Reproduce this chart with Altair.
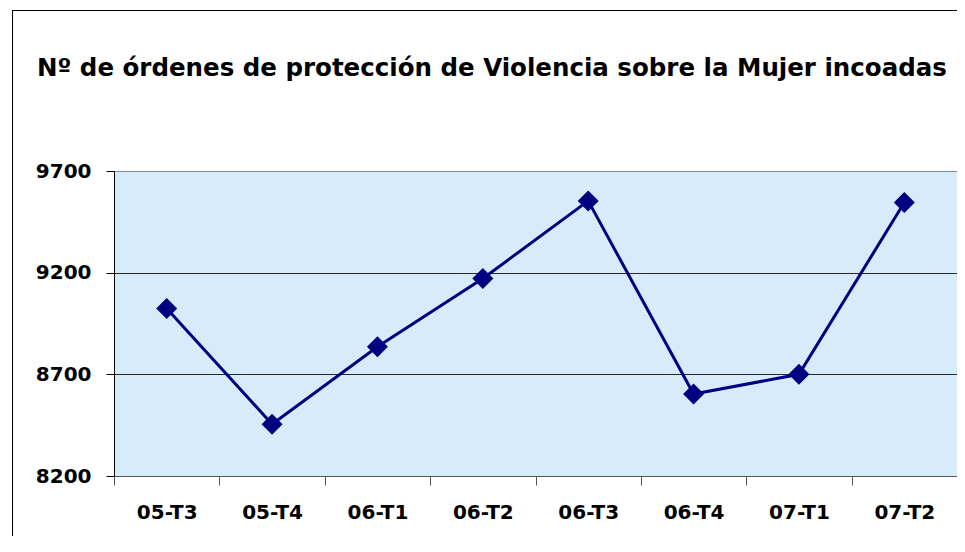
import altair as alt
import pandas as pd

categories = ["05-T3", "05-T4", "06-T1", "06-T2", "06-T3", "06-T4", "07-T1", "07-T2"]
values = [9024, 8455, 8836, 9171, 9553, 8603, 8700, 9545]
y_ticks = [8200, 8700, 9200, 9700]
title_text = "Nº de órdenes de protección de Violencia sobre la Mujer incoadas"

df = pd.DataFrame({"periodo": categories, "ordenes": values})
title_df = pd.DataFrame({"t": [title_text]})

FONT = "DejaVu Sans"

x_enc = alt.X(
    "periodo:N",
    sort=categories,
    title=None,
    scale=alt.Scale(type="band", paddingInner=0, paddingOuter=0),
    axis=alt.Axis(
        labelAngle=0,
        tickBand="extent",
        tickSize=9,
        tickColor="#555555",
        domainColor="#555555",
        labelFont=FONT,
        labelFontSize=20,
        labelFontWeight="bold",
        labelColor="#000000",
        labelPadding=17,
        grid=False,
    ),
)
y_enc = alt.Y(
    "ordenes:Q",
    title=None,
    scale=alt.Scale(domain=[8200, 9700], nice=False, zero=False),
    axis=alt.Axis(
        values=y_ticks,
        format="d",
        tickSize=8,
        tickColor="#000000",
        domainColor="#000000",
        labelFont=FONT,
        labelFontSize=20,
        labelFontWeight="bold",
        labelColor="#000000",
        labelPadding=15,
        grid=True,
        gridColor={"condition": {"test": "datum.value == 9700", "value": "#8c8c8c"}, "value": "#2a2a2a"},
        gridWidth=1,
    ),
)

line = alt.Chart(df).mark_line(color="#000080", strokeWidth=3).encode(x=x_enc, y=y_enc)
pts = alt.Chart(df).mark_point(shape="diamond", filled=True, size=440, color="#000080", opacity=1).encode(
    x=x_enc, y=y_enc
)

border_left = alt.Chart(df).mark_rule(color="#000000", strokeWidth=1).encode(
    x=alt.value(-101.5), y=alt.value(-160.5), y2=alt.value(500)
)
border_top = alt.Chart(df).mark_rule(color="#000000", strokeWidth=1).encode(
    x=alt.value(-101.5), x2=alt.value(900), y=alt.value(-160.5)
)
title = alt.Chart(title_df).mark_text(
    font=FONT, fontSize=24.5, fontWeight="bold", color="#000000", align="left", baseline="alphabetic"
).encode(text="t:N", x=alt.value(-77), y=alt.value(-95))

chart = (
    alt.layer(border_left, border_top, line, pts, title)
    .properties(
        width=843,
        height=305,
        autosize=alt.AutoSizeParams(type="none"),
        padding={"left": 106, "top": 163, "right": 0, "bottom": 60},
        background="white",
    )
    .configure_view(fill="#D6ECFB", stroke="#8c8c8c", strokeWidth=1)
)

chart.save("out.html", embed_options={"renderer": "svg", "actions": False})
